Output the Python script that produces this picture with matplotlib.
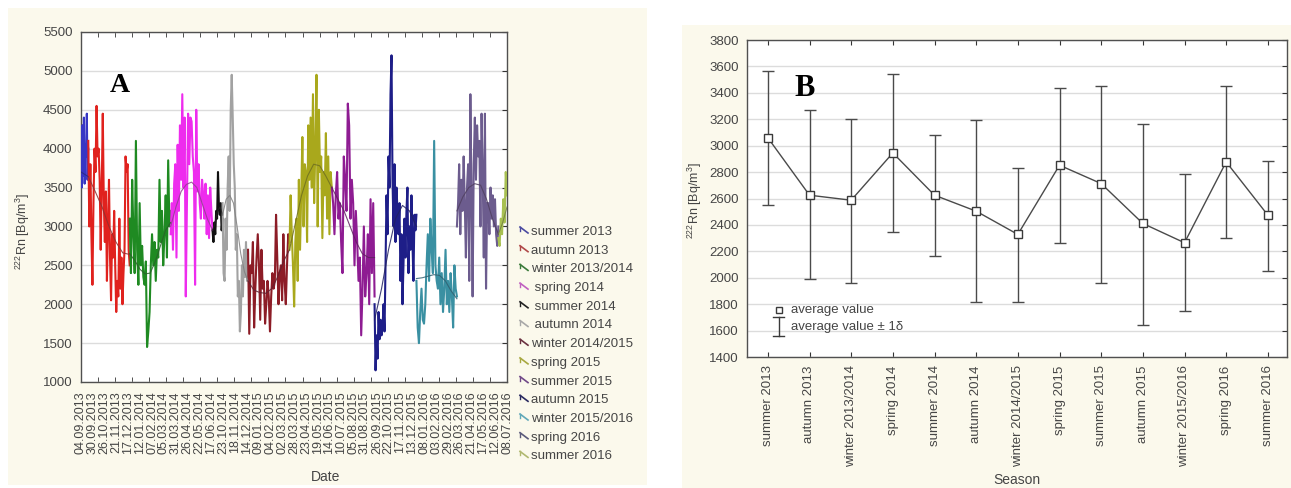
import numpy as np
import matplotlib
matplotlib.use("Agg")
import matplotlib.pyplot as plt
from matplotlib.patches import Rectangle
from matplotlib.lines import Line2D

plt.rcParams['font.family'] = ['Liberation Sans', 'DejaVu Sans']
plt.rcParams['mathtext.fontset'] = 'custom'
plt.rcParams['mathtext.rm'] = 'Liberation Sans'
plt.rcParams['mathtext.it'] = 'Liberation Sans:italic'
plt.rcParams['mathtext.bf'] = 'Liberation Sans:bold'

# ---------------- DATA ----------------
seasons = ["summer 2013", "autumn 2013", "winter 2013/2014", "spring 2014",
           "summer 2014", "autumn 2014", "winter 2014/2015", "spring 2015",
           "summer 2015", "autumn 2015", "winter 2015/2016", "spring 2016",
           "summer 2016"]

# sample index at which each season starts / ends (panel A x-axis = sample index)
season_bounds = [0, 16, 107, 197, 289, 311, 367, 458, 551, 645, 737, 826, 917, 936]

date_labels = ["04.09.2013", "30.09.2013", "26.10.2013", "21.11.2013", "17.12.2013",
               "12.01.2014", "07.02.2014", "05.03.2014", "31.03.2014", "26.04.2014",
               "22.05.2014", "17.06.2014", "23.10.2014", "18.11.2014", "14.12.2014",
               "09.01.2015", "04.02.2015", "02.03.2015", "28.03.2015", "23.04.2015",
               "19.05.2015", "14.06.2015", "10.07.2015", "05.08.2015", "31.08.2015",
               "26.09.2015", "22.10.2015", "17.11.2015", "13.12.2015", "08.01.2016",
               "03.02.2016", "29.02.2016", "26.03.2016", "21.04.2016", "17.05.2016",
               "12.06.2016", "08.07.2016"]
date_label_step = 26  # samples between date labels

rn_summer2013 = [3900, 3500, 4300, 3650, 4400, 3550, 4050, 3900, 4450, 3600, 4000]
rn_autumn2013 = [4100, 3000, 3800, 2900, 2250, 3300, 4000, 3700, 4550, 3900, 4000, 3600,
                 2700, 3500, 4450, 3300, 2800, 3450, 2300, 3000, 3600, 2600, 2050, 2900,
                 2600, 3200, 2500, 1900, 2300, 2100, 3100, 2200, 2600, 2000, 2400, 2700,
                 3900, 3700, 3800, 2700, 2500]
rn_winter2013 = [3100, 2400, 3600, 2900, 2400, 4100, 2700, 2250, 3300, 2500, 2750, 2350,
                 2250, 2550, 1450, 1650, 1900, 2500, 2900, 2500, 2800, 2300, 2700, 2600,
                 3600, 2800, 3200, 2500, 2900, 3400, 2600, 3850, 3000, 3200]
rn_spring2014 = [2900, 3300, 2700, 3550, 3800, 2600, 4050, 3200, 4300, 3600, 4700, 3500,
                 4400, 2100, 3300, 4450, 3800, 4400, 4350, 3900, 3700, 2250, 4500, 3450,
                 3800, 3300, 3100, 3600, 3400, 3100, 3550, 2900, 3400, 2850, 3500, 3200, 2950]
rn_summer2014 = [2950, 2800, 3050, 2900, 3200, 3100, 3700, 3250, 3150, 3300, 2950, 3100]
rn_autumn2014 = [3300, 2400, 2300, 3100, 2700, 3500, 3900, 3200, 4500, 4950, 4400, 3800,
                 3500, 2700, 2900, 2100, 2300, 1650, 1900, 2500, 2100, 2700, 2350, 2800,
                 2300, 2650]
rn_winter2014 = [2700, 1620, 2500, 2400, 2800, 1700, 2200, 2600, 2900, 2500, 1800, 2700,
                 2200, 2300, 1750, 2000, 2300, 2100, 1650, 2100, 2400, 2200, 2300, 3150,
                 2600, 2000, 2400, 2500, 2050, 2900, 2300, 2000, 2500, 2900, 2800]
rn_spring2015 = [2700, 3400, 2900, 2500, 1970, 2800, 3100, 2300, 3600, 2700, 3400, 4150,
                 3000, 3800, 3700, 2800, 4300, 3600, 4400, 3500, 4700, 3300, 4000, 4950,
                 3000, 4500, 3700, 3900, 2850, 3700, 3400, 4200, 3100, 3900, 2900, 3700, 3500]
rn_summer2015 = [3500, 3300, 2900, 3400, 3700, 3100, 3300, 2800, 2400, 3900, 3600, 3200,
                 4580, 4300, 3100, 3600, 3300, 2500, 3200, 2800, 2300, 2600, 1600, 2200,
                 3000, 2100, 2400, 2900, 2000, 3350, 2400, 3300, 2100]
rn_autumn2015 = [2000, 1150, 1600, 1300, 1900, 1550, 1800, 1600, 1700, 2000, 1650, 2500,
                 3400, 2900, 3900, 3500, 4700, 5200, 3600, 3000, 3800, 2800, 3500, 3200,
                 2900, 3300, 2300, 2900, 2000, 2500, 3100, 2600, 3200, 3500, 2400, 3000,
                 2700, 3400, 2800, 2300, 3150, 2950, 3150]
rn_winter2015 = [2300, 1700, 1500, 1900, 2200, 1800, 1750, 2000, 2500, 2900, 2300, 3100,
                 2700, 2400, 4100, 2500, 2300, 2200, 2600, 2000, 2400, 1900, 2200, 2700,
                 2000, 2300, 1900, 2400, 2100, 1700, 2500, 2200, 2100]
rn_spring2016 = [3000, 3300, 3800, 2900, 3600, 3200, 3900, 3300, 2600, 3500, 3800, 2300,
                 4700, 3400, 2100, 3800, 4400, 3600, 4300, 3900, 4100, 3000, 4450, 3700,
                 2600, 4450, 2200, 3300, 3300, 2900, 3500, 3100, 3400, 3000, 3350, 2900,
                 2750, 3000]
rn_summer2016 = [2850, 2750, 3100, 2900, 3350, 3050, 3700, 3400]

series = [rn_summer2013, rn_autumn2013, rn_winter2013, rn_spring2014, rn_summer2014,
          rn_autumn2014, rn_winter2014, rn_spring2015, rn_summer2015, rn_autumn2015,
          rn_winter2015, rn_spring2016, rn_summer2016]

# smoothed trend per season (thin line)
trend_summer2013 = [3700, 3640]
trend_autumn2013 = [3640, 3450, 3250, 3000, 2800, 2660, 2640]
trend_winter2013 = [2650, 2560, 2450, 2390, 2400, 2550, 2750, 2950, 3050]
trend_spring2014 = [3000, 3250, 3450, 3540, 3570, 3500, 3300, 3100, 2950]
trend_summer2014 = [2950, 3050, 3200, 3250, 3150]
trend_autumn2014 = [3150, 3350, 3400, 3300, 3000, 2650, 2420, 2300]
trend_winter2014 = [2300, 2180, 2150, 2140, 2200, 2350, 2550, 2700]
trend_spring2015 = [2700, 3050, 3400, 3650, 3800, 3780, 3650, 3500]
trend_summer2015 = [3500, 3350, 3200, 3000, 2800, 2650, 2600, 2600]
trend_autumn2015 = [1800, 2200, 2700, 3100, 3270, 3200, 3000]
trend_winter2015 = [2330, 2340, 2360, 2380, 2370, 2300, 2170, 2070]
trend_spring2016 = [3200, 3380, 3500, 3550, 3530, 3350, 3100, 2900]
trend_summer2016 = [2900, 3050, 3250]

trends = [trend_summer2013, trend_autumn2013, trend_winter2013, trend_spring2014,
          trend_summer2014, trend_autumn2014, trend_winter2014, trend_spring2015,
          trend_summer2015, trend_autumn2015, trend_winter2015, trend_spring2016,
          trend_summer2016]

# Panel B: seasonal mean and +/- 1 sigma limits
b_mean  = [3060, 2625, 2587, 2945, 2625, 2504, 2328, 2852, 2713, 2411, 2265, 2877, 2474]
b_upper = [3564, 3267, 3199, 3543, 3083, 3191, 2831, 3438, 3455, 3166, 2789, 3455, 2884]
b_lower = [2550, 1991, 1958, 2343, 2167, 1818, 1818, 2260, 1958, 1644, 1750, 2298, 2054]

# ---------------- STYLE ----------------
colors = ['#3636c4', '#e0221e', '#1f8a22', '#ee2cee', '#111111', '#a2a2a2', '#8c1c26',
          '#a9a81c', '#8e1c92', '#1e1e88', '#3a90a2', '#6c5c8e', '#a8c052']
trend_colors = ['#2a2a80', '#903030', '#2a602a', '#904090', '#222222', '#808080', '#602030',
                '#707020', '#602060', '#202060', '#306070', '#504060', '#708040']
legend_colors = ['#4a4aa0', '#b04848', '#3a7a3a', '#c060c0', '#222222', '#a8a8a8',
                 '#6a3040', '#a8a840', '#704888', '#2a2a60', '#60a8b8', '#5a5a7a', '#b0b870']
txt = '#454545'
cream = '#fbf9ec'
W, H = 1291, 488

fig = plt.figure(figsize=(W / 100, H / 100), dpi=100)
fig.patch.set_facecolor('white')


def fx(x):
    return x / W


def fy(y):
    return 1 - y / H


fig.add_artist(Rectangle((fx(8), fy(485)), fx(647) - fx(8), fy(8) - fy(485),
                         transform=fig.transFigure, facecolor=cream, edgecolor='none', zorder=-5))
fig.add_artist(Rectangle((fx(682), fy(488)), fx(1291) - fx(682), fy(25) - fy(488),
                         transform=fig.transFigure, facecolor=cream, edgecolor='none', zorder=-5))

# ---------------- PANEL A ----------------
axA = fig.add_axes([fx(81), fy(382), fx(507) - fx(81), fy(32) - fy(382)])
axA.set_facecolor('white')
for i, (vals, tr) in enumerate(zip(series, trends)):
    b0, b1 = season_bounds[i], season_bounds[i + 1]
    xs = np.linspace(b0, b1, len(vals))
    axA.plot(xs, vals, color=colors[i], lw=1.5, zorder=3)
    xt = np.linspace(b0, b1, len(tr))
    axA.plot(xt, tr, color=trend_colors[i], lw=0.8, zorder=4, alpha=0.85)

axA.set_xlim(0, season_bounds[-1])
axA.set_ylim(1000, 5500)
axA.set_yticks(np.arange(1000, 5501, 500))
axA.yaxis.grid(True, color='#dcdcdc', lw=1)
axA.set_axisbelow(True)
axA.set_xticks(np.arange(len(date_labels)) * date_label_step)
axA.set_xticklabels(date_labels, rotation=90, fontsize=9, color=txt)
axA.set_xticks(np.linspace(0, season_bounds[-1], 26), minor=True)
axA.tick_params(axis='x', which='major', length=0, pad=7)
axA.tick_params(axis='x', which='minor', direction='in', length=3.5, top=True, bottom=True,
                color='#333333')
axA.tick_params(axis='y', direction='in', length=3.5, right=True, left=False, labelsize=9.5,
                labelcolor=txt, pad=6, color='#333333')
for s in axA.spines.values():
    s.set_color('#505050')
    s.set_linewidth(1)
fig.text(fx(326), fy(477), 'Date', ha='center', va='center', fontsize=10, color=txt)
fig.text(fx(23), fy(231), r'$^{222}$Rn [Bq/m$^3$]', ha='center', va='center', rotation=90,
         fontsize=9, color=txt)
fig.text(fx(120), fy(86), 'A', ha='center', va='center', fontsize=20, fontweight='bold',
         family='Liberation Serif', color='black')

# legend A
leg_y0, leg_dy = 232, 18.7
for i, name in enumerate(seasons):
    y = leg_y0 + i * leg_dy
    fig.add_artist(Line2D([fx(520), fx(528)], [fy(y - 5), fy(y + 1)], transform=fig.transFigure,
                          color=legend_colors[i], lw=1.2))
    fig.add_artist(Line2D([fx(520), fx(520)], [fy(y - 5), fy(y - 1)], transform=fig.transFigure,
                          color=legend_colors[i], lw=1.0))
    lead = ' ' if name in ("spring 2014", "summer 2014", "autumn 2014") else ''
    fig.text(fx(531), fy(y), lead + name, ha='left', va='center', fontsize=9.5, color=txt)

# ---------------- PANEL B ----------------
axB = fig.add_axes([fx(747), fy(357), fx(1287) - fx(747), fy(40) - fy(357)])
axB.set_facecolor('white')
xb = np.arange(len(seasons))
mean = np.array(b_mean)
yerr = np.vstack([mean - np.array(b_lower), np.array(b_upper) - mean])
axB.errorbar(xb, mean, yerr=yerr, fmt='none', ecolor='#4a4a4a', elinewidth=1, capsize=4,
             capthick=1, zorder=3)
axB.plot(xb, mean, color='#4a4a4a', lw=1, marker='s', ms=5.5, mfc='white', mec='#3a3a3a',
         mew=1, zorder=4)
axB.set_xlim(-0.5, len(seasons) - 1 + 0.46)
axB.set_ylim(1400, 3800)
axB.set_yticks(np.arange(1400, 3801, 200))
axB.yaxis.grid(True, color='#dcdcdc', lw=1)
axB.set_axisbelow(True)
axB.set_xticks(xb)
axB.set_xticklabels(seasons, rotation=90, fontsize=9.5, color=txt)
axB.tick_params(axis='x', direction='in', length=3.5, top=True, bottom=True, pad=6,
                color='#333333')
axB.tick_params(axis='y', direction='in', length=3.5, right=True, left=False, labelsize=9.5,
                labelcolor=txt, pad=6, color='#333333')
for s in axB.spines.values():
    s.set_color('#505050')
    s.set_linewidth(1)
axB.set_xlabel('Season', fontsize=10, color=txt, labelpad=4)
fig.text(fx(695), fy(200), r'$^{222}$Rn [Bq/m$^3$]', ha='center', va='center', rotation=90,
         fontsize=9, color=txt)
fig.text(fx(805), fy(89), 'B', ha='center', va='center', fontsize=22, fontweight='bold',
         family='Liberation Serif', color='black')

# legend B (drawn in axes coordinates)
axB.plot([0.059], [0.148], transform=axB.transAxes, marker='s', ms=4, mfc='white',
         mec='#3a3a3a', mew=1, ls='none', clip_on=False)
axB.plot([0.059, 0.059], [0.065, 0.125], transform=axB.transAxes, color='#3a3a3a', lw=1)
axB.plot([0.049, 0.069], [0.125, 0.125], transform=axB.transAxes, color='#3a3a3a', lw=1)
axB.plot([0.049, 0.069], [0.065, 0.065], transform=axB.transAxes, color='#3a3a3a', lw=1)
axB.text(0.082, 0.148, 'average value', transform=axB.transAxes, ha='left', va='center',
         fontsize=9.5, color=txt)
axB.text(0.082, 0.095, 'average value ± 1δ', transform=axB.transAxes, ha='left', va='center',
         fontsize=9.5, color=txt)

fig.savefig('out.png', dpi=100, facecolor='white')
